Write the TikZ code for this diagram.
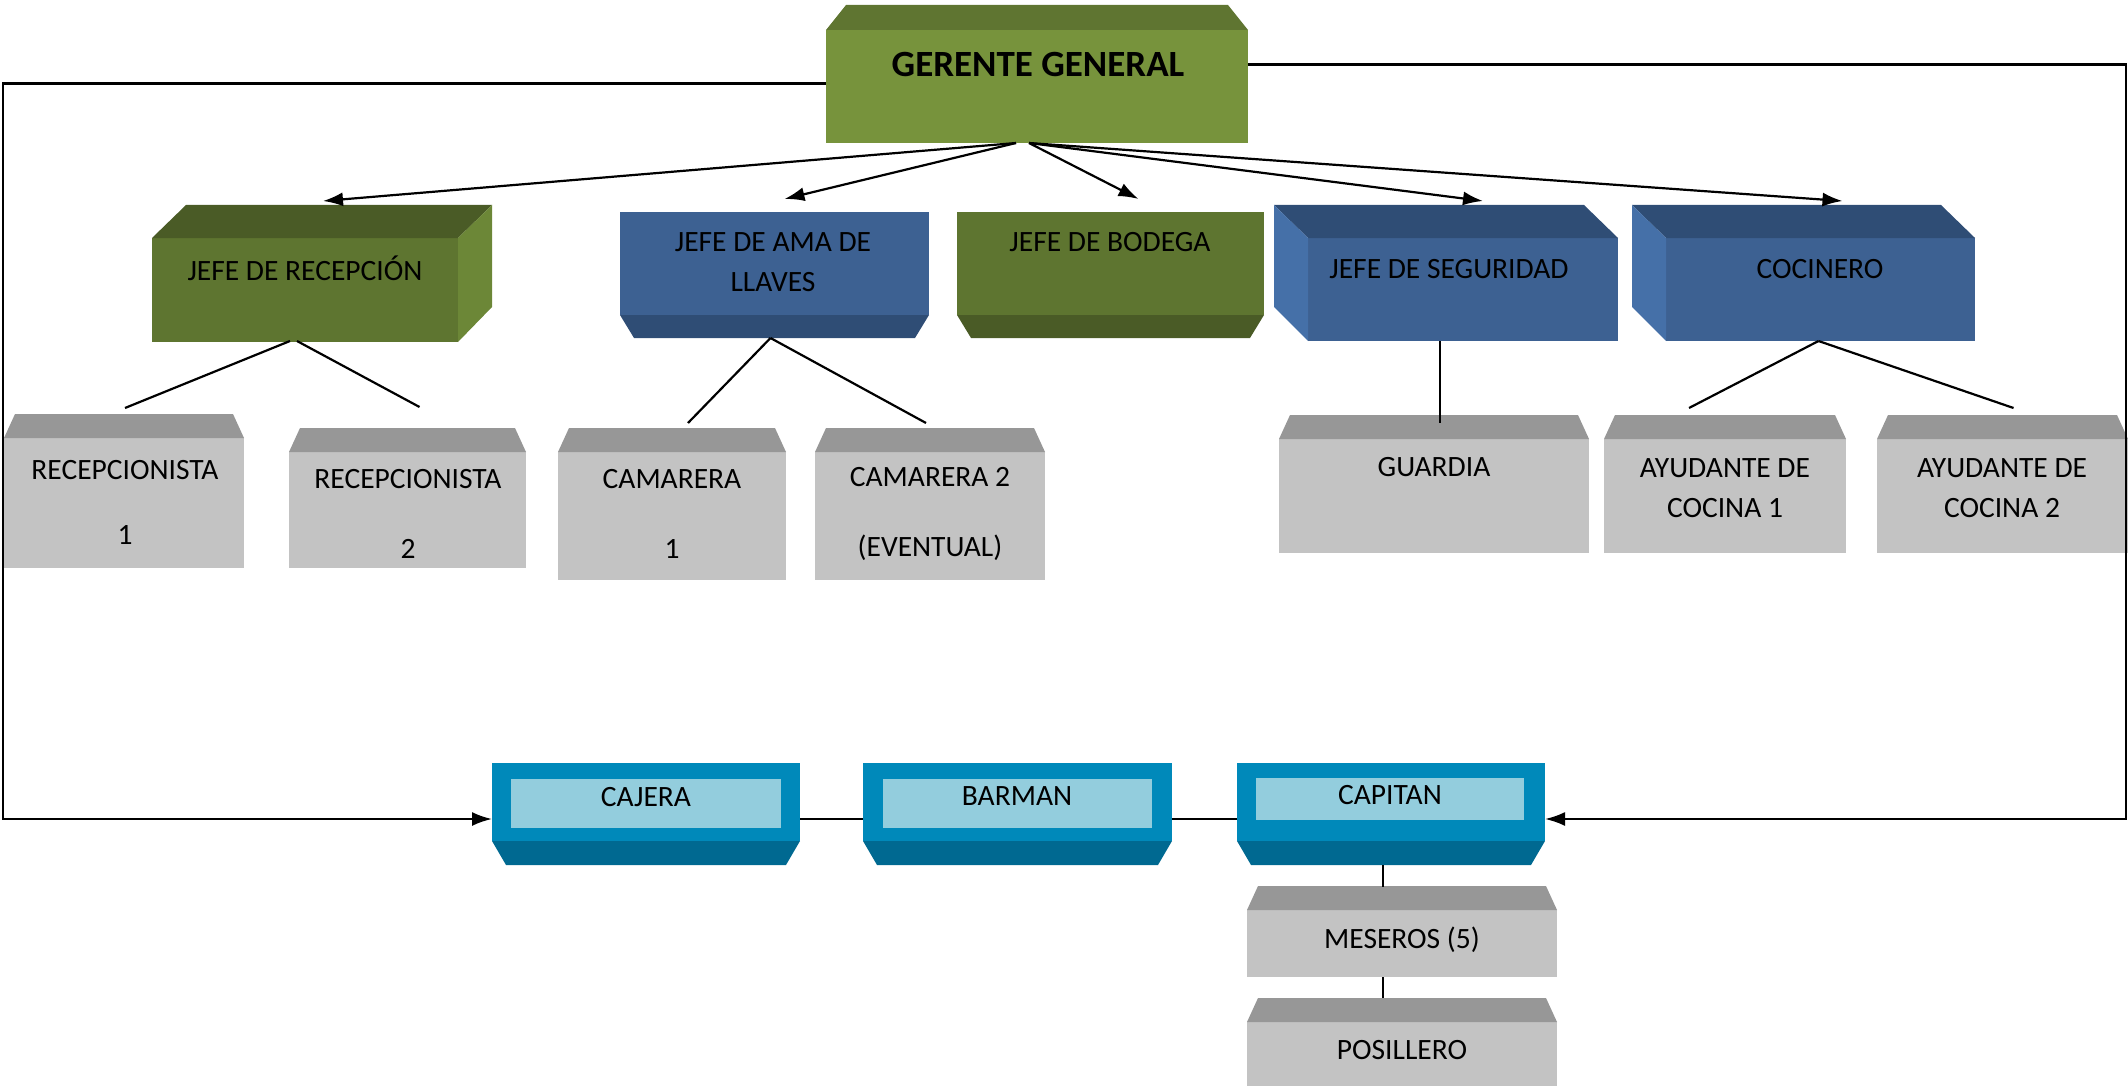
\documentclass[tikz,border=0pt]{standalone}
\usepackage{fontspec}
\setmainfont{Carlito}
\usetikzlibrary{arrows.meta,positioning}
\definecolor{verdeGG}{RGB}{119,147,60}
\definecolor{verdeGGtop}{RGB}{95,117,49}
\definecolor{verdeJ}{RGB}{94,117,48}
\definecolor{verdeJtop}{RGB}{74,91,38}
\definecolor{verdeJlado}{RGB}{108,135,55}
\definecolor{azul}{RGB}{61,97,146}
\definecolor{azultop}{RGB}{47,77,117}
\definecolor{azullado}{RGB}{69,112,168}
\definecolor{grisF}{RGB}{195,195,195}
\definecolor{grisT}{RGB}{151,151,151}
\definecolor{celeste}{RGB}{0,137,186}
\definecolor{celesteosc}{RGB}{0,105,145}
\definecolor{celesteclaro}{RGB}{147,205,221}
\tikzset{
  cara/.style={rectangle,inner sep=0pt,outer sep=0pt,anchor=north west},
  txt/.style={font=\fontsize{29.5}{40}\selectfont,align=center,inner sep=0pt},
  interior/.style={rectangle,fill=celesteclaro,inner sep=0pt,text depth=13pt,font=\fontsize{29.5}{40}\selectfont},
  linea/.style={line width=2.2pt},
  flecha/.style={linea,-{Latex[length=20pt,width=14pt]}},
}
\begin{document}
\begin{tikzpicture}[x=1pt,y=-1pt]
  \useasboundingbox (0,0) rectangle (2128,1086);
  % gerente general
  \node[cara,fill=verdeGG,minimum width=422pt,minimum height=113pt] (gg) at (826,30) {};
  \fill[verdeGGtop] (gg.north west) -- ++(20,-25) -- ([shift={(-20,-25)}]gg.north east) -- (gg.north east) -- cycle;
  \node[txt,font=\fontsize{37}{40}\selectfont\bfseries] (gg-t) at (1038,64) {GERENTE GENERAL};
  % jefes
  \node[cara,fill=verdeJ,minimum width=306pt,minimum height=104pt] (jr) at (152,238) {};
  \fill[verdeJtop] (jr.north west) -- ++(34,-33) -- ([shift={(34,-33)}]jr.north east) -- (jr.north east) -- cycle;
  \fill[verdeJlado] (jr.north east) -- ++(34,-33) -- ++(0,102) -- (jr.south east) -- cycle;
  \node[txt] (jr-t) at (305,268) {JEFE DE RECEPCIÓN};
  \node[cara,fill=azul,minimum width=309pt,minimum height=103pt] (jal) at (620,212) {};
  \fill[azultop] (jal.south west) -- (jal.south east) -- ++(-14,23) -- ([shift={(14,23)}]jal.south west) -- cycle;
  \node[txt] (jal-t) at (773,262) {JEFE DE AMA DE\\LLAVES};
  \node[cara,fill=verdeJ,minimum width=307pt,minimum height=103pt] (jb) at (957,212) {};
  \fill[verdeJtop] (jb.south west) -- (jb.south east) -- ++(-14,23) -- ([shift={(14,23)}]jb.south west) -- cycle;
  \node[txt] (jb-t) at (1110,242) {JEFE DE BODEGA};
  \node[cara,fill=azul,minimum width=310pt,minimum height=103pt] (jds) at (1308,238) {};
  \fill[azultop] (jds.north west) -- ++(-34,-33) -- ([shift={(-34,-33)}]jds.north east) -- (jds.north east) -- cycle;
  \fill[azullado] (jds.north west) -- ++(-34,-33) -- ++(0,102) -- (jds.south west) -- cycle;
  \node[txt] (jds-t) at (1449,269) {JEFE DE SEGURIDAD};
  \node[cara,fill=azul,minimum width=309pt,minimum height=103pt] (coc) at (1666,238) {};
  \fill[azultop] (coc.north west) -- ++(-34,-33) -- ([shift={(-34,-33)}]coc.north east) -- (coc.north east) -- cycle;
  \fill[azullado] (coc.north west) -- ++(-34,-33) -- ++(0,102) -- (coc.south west) -- cycle;
  \node[txt] (coc-t) at (1820,269) {COCINERO};
  % cajas grises
  \foreach \n/\xa/\ya/\w/\h in {r1/4/438/240/130, r2/289/452/237/116, c1/558/452/228/128,
      c2/815/452/230/128, gua/1279/439/310/114, ay1/1604/439/242/114, ay2/1877/439/251/114,
      mes/1247/910/310/67, pos/1247/1022/310/64}{
    \node[cara,fill=grisF,minimum width=\w pt,minimum height=\h pt] (\n) at (\xa,\ya) {};
    \fill[grisT] (\n.north west) -- ++(11,-24) -- ([shift={(-11,-24)}]\n.north east) -- (\n.north east) -- cycle;
  }
  \node[txt] (r1-t) at (125,502) {RECEPCIONISTA\\[25pt]1};
  \node[txt] (r2-t) at (408,514) {RECEPCIONISTA\\[30pt]2};
  \node[txt] (c1-t) at (672,514) {CAMARERA\\[30pt]1};
  \node[txt] (c2-t) at (930,514) {CAMARERA 2\\[30pt](EVENTUAL)};
  \node[txt] (gua-t) at (1434,467) {GUARDIA};
  \node[txt] (ay1-t) at (1725,488) {AYUDANTE DE\\COCINA 1};
  \node[txt] (ay2-t) at (2002,488) {AYUDANTE DE\\COCINA 2};
  \node[txt] (mes-t) at (1402,940) {MESEROS (5)};
  \node[txt] (pos-t) at (1402,1050) {POSILLERO};
  % fila de abajo
  \node[cara,fill=celeste,minimum width=308pt,minimum height=78pt] (caj) at (492,763) {};
  \node[cara,fill=celeste,minimum width=309pt,minimum height=78pt] (bar) at (863,763) {};
  \node[cara,fill=celeste,minimum width=308pt,minimum height=78pt] (cap) at (1237,763) {};
  \foreach \n in {caj,bar,cap}
    \fill[celesteosc] (\n.south west) -- (\n.south east) -- ++(-14,24) -- ([shift={(14,24)}]\n.south west) -- cycle;
  \node[interior,minimum width=270pt,minimum height=49pt] (caj-t) at (646,803) {CAJERA};
  \node[interior,minimum width=269pt,minimum height=49pt] (bar-t) at (1017,803) {BARMAN};
  \node[interior,minimum width=268pt,minimum height=42pt,text depth=9pt] (cap-t) at (1390,799) {CAPITAN};
  % conectores
  \draw[flecha] ([shift={(-21,0)}]gg.south) -- ([shift={(18,-37)}]jr.north);
  \draw[flecha] ([shift={(-21,0)}]gg.south) -- ([shift={(10,-13)}]jal.north);
  \draw[flecha] ([shift={(-8,0)}]gg.south) -- ([shift={(28,-13)}]jb.north);
  \draw[flecha] ([shift={(-8,0)}]gg.south) -- ([shift={(20,-37)}]jds.north);
  \draw[flecha] ([shift={(-8,0)}]gg.south) -- ([shift={(22,-37)}]coc.north);
  \draw[linea] ([shift={(-15,-1)}]jr.south) -- ([shift={(1,-30)}]r1.north);
  \draw[linea] ([shift={(-8,-1)}]jr.south) -- ([shift={(12,-45)}]r2.north);
  \draw[linea] ([shift={(-4,23)}]jal.south) -- ([shift={(16,-29)}]c1.north);
  \draw[linea] ([shift={(-4,23)}]jal.south) -- ([shift={(-4,-29)}]c2.north);
  \draw[linea] ([shift={(-23,0)}]jds.south) -- ([shift={(6,-16)}]gua.north);
  \draw[linea] ([shift={(-2,0)}]coc.south) -- ([shift={(-36,-31)}]ay1.north);
  \draw[linea] ([shift={(-2,0)}]coc.south) -- ([shift={(11,-31)}]ay2.north);
  \coordinate (izq) at (3,450);
  \coordinate (der) at (2126,450);
  \draw[flecha] ([shift={(0,-3)}]gg.west) -| (izq) |- ([shift={(0,17)}]caj.west);
  \draw[flecha] ([shift={(0,-22)}]gg.east) -| (der) |- ([shift={(0,17)}]cap.east);
  \draw[linea] ([shift={(0,17)}]caj.east) -- ([shift={(0,17)}]bar.west);
  \draw[linea] ([shift={(0,17)}]bar.east) -- ([shift={(0,17)}]cap.west);
  \draw[linea] ([shift={(-8,24)}]cap.south) -- ([shift={(-19,-23)}]mes.north);
  \draw[linea] ([shift={(-19,0)}]mes.south) -- ([shift={(-19,-24)}]pos.north);
\end{tikzpicture}
\end{document}
